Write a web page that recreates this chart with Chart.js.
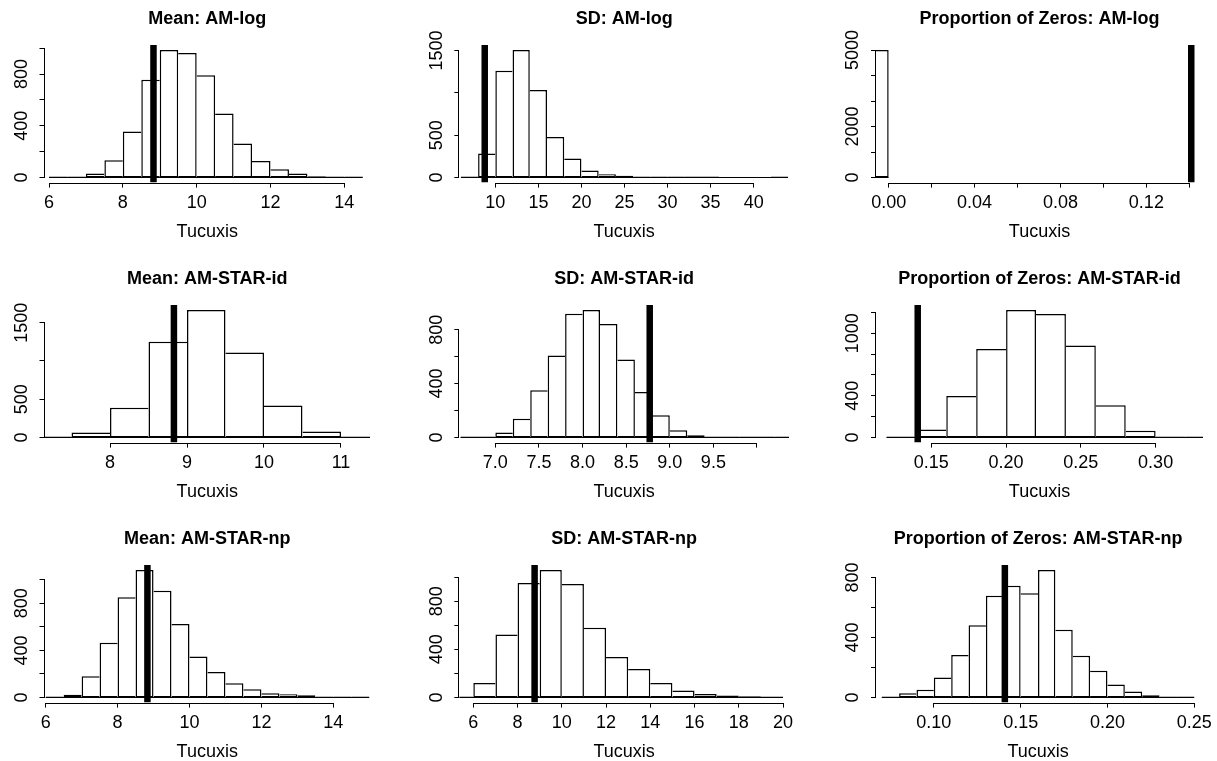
<!DOCTYPE html>
<html>
<head>
<meta charset="utf-8">
<title>Posterior predictive checks - Tucuxis</title>
<script src="https://cdn.jsdelivr.net/npm/chart.js@4.4.1/dist/chart.umd.min.js"></script>
<style>
  html, body { margin: 0; padding: 0; background: #fff; overflow: hidden; }
  body { width: 1217px; height: 761px; position: relative; }
  canvas { position: absolute; }
</style>
</head>
<body>
<script>
const panelTitles = [
  'Mean: AM-log', 'SD: AM-log', 'Proportion of Zeros: AM-log',
  'Mean: AM-STAR-id', 'SD: AM-STAR-id', 'Proportion of Zeros: AM-STAR-id',
  'Mean: AM-STAR-np', 'SD: AM-STAR-np', 'Proportion of Zeros: AM-STAR-np'
];

const countsMeanLog = [2, 1, 31, 133, 356, 756, 985, 962, 790, 495, 262, 128, 64, 31, 10, 3, 2];
const countsSdLog = [8, 284, 1259, 1504, 1034, 478, 225, 83, 39, 20, 8, 4, 4, 2, 4, 0, 0, 0, 2];
const countsPropLog = [5000];
const countsMeanId = [3, 65, 389, 1249, 1664, 1111, 419, 78, 3];
const countsSdId = [1, 4, 37, 140, 350, 608, 918, 945, 842, 578, 337, 165, 54, 17, 4, 1, 1, 1, 2];
const countsPropId = [8, 76, 398, 850, 1222, 1184, 882, 309, 64, 6, 1];
const countsMeanNp = [5, 23, 180, 465, 851, 1082, 907, 625, 349, 217, 121, 70, 37, 28, 20, 8, 3, 2];
const countsSdNp = [1, 121, 523, 950, 1058, 942, 579, 336, 237, 121, 58, 30, 17, 11, 4];
const countsPropNp = [3, 29, 51, 133, 283, 482, 678, 745, 694, 849, 451, 278, 179, 86, 40, 15, 6, 2];

// first break and bin width of each histogram
const binStart = [6, 6, -0.01, 7, 6.6, 0.12, 6, 5, 0.07];
const binWidth = [0.5, 2, 0.01, 0.5, 0.2, 0.02, 0.5, 1, 0.01];

// observed statistic (thick vertical line): mean, sd, proportion of zeros
const observedStat = [8.83, 8.77, 0.1409];

// x axis limits of each panel
const xLimits = [
  [5.878, 14.695], [5.819, 44.104], [-0.0059, 0.14637],
  [7.149, 11.377], [6.587, 10.367], [0.113, 0.33168],
  [5.968, 15.019], [5.367, 20.271], [0.06669, 0.25344]
];

const xTicks = [
  [6, 8, 10, 12, 14],
  [10, 15, 20, 25, 30, 35, 40],
  [0, 0.02, 0.04, 0.06, 0.08, 0.1, 0.12, 0.14],
  [8, 9, 10, 11],
  [7, 7.5, 8, 8.5, 9, 9.5, 10],
  [0.15, 0.2, 0.25, 0.3],
  [6, 8, 10, 12, 14],
  [6, 8, 10, 12, 14, 16, 18, 20],
  [0.1, 0.15, 0.2, 0.25]
];
const xTickLabels = [
  ['6', '8', '10', '12', '14'],
  ['10', '15', '20', '25', '30', '35', '40'],
  ['0.00', '', '0.04', '', '0.08', '', '0.12', ''],
  ['8', '9', '10', '11'],
  ['7.0', '7.5', '8.0', '8.5', '9.0', '9.5', ''],
  ['0.15', '0.20', '0.25', '0.30'],
  ['6', '8', '10', '12', '14'],
  ['6', '8', '10', '12', '14', '16', '18', '20'],
  ['0.10', '0.15', '0.20', '0.25']
];

const yTicks = [
  [0, 200, 400, 600, 800, 1000],
  [0, 500, 1000, 1500],
  [0, 1000, 2000, 3000, 4000, 5000],
  [0, 500, 1000, 1500],
  [0, 200, 400, 600, 800],
  [0, 200, 400, 600, 800, 1000, 1200],
  [0, 200, 400, 600, 800, 1000],
  [0, 200, 400, 600, 800, 1000],
  [0, 200, 400, 600, 800]
];
const yTickLabels = [
  ['0', '', '400', '', '800', ''],
  ['0', '500', '', '1500'],
  ['0', '', '2000', '', '', '5000'],
  ['0', '500', '', '1500'],
  ['0', '', '400', '', '800'],
  ['0', '', '400', '', '', '1000', ''],
  ['0', '', '400', '', '800', ''],
  ['0', '', '400', '', '800', ''],
  ['0', '', '400', '', '800']
];

const binCounts = [countsMeanLog, countsSdLog, countsPropLog,
                   countsMeanId, countsSdId, countsPropId,
                   countsMeanNp, countsSdNp, countsPropNp];

// ---- page layout (3 x 3 panels) ----
const colLeft = [0, 406, 812];
const colWidth = [406, 406, 405];
const rowTop = [0, 260, 520];
const panelHeight = 260;
const plotLeft = [44.5, 53.33, 64];
const plotRight = [370, 383, 391];
const plotBottom = 182.596;   // puts the zero line on a pixel centre
const FONT = '"Liberation Sans", Arial, Helvetica, sans-serif';
const FONT_SIZE = 18;
const EDGE = 1.5;             // bar outline width

Chart.defaults.font.family = FONT;
Chart.defaults.font.size = FONT_SIZE;
Chart.defaults.color = '#000';

const measureCtx = document.createElement('canvas').getContext('2d');
measureCtx.font = FONT_SIZE + 'px ' + FONT;

// R style axis line: only from the first to the last tick
const rAxisLines = {
  id: 'rAxisLines',
  afterDraw(chart) {
    const {ctx, scales: {x, y}} = chart;
    const xt = x.ticks, yt = y.ticks;
    ctx.save();
    ctx.strokeStyle = '#000';
    ctx.lineWidth = 1;
    ctx.beginPath();
    const by = Math.round(x.top) + 0.5;
    ctx.moveTo(x.getPixelForValue(xt[0].value), by);
    ctx.lineTo(x.getPixelForValue(xt[xt.length - 1].value), by);
    const lx = Math.round(y.right) - 0.5;
    ctx.moveTo(lx, y.getPixelForValue(yt[0].value));
    ctx.lineTo(lx, y.getPixelForValue(yt[yt.length - 1].value));
    ctx.stroke();
    ctx.restore();
  }
};

function makePanel(idx) {
  const col = idx % 3, row = Math.floor(idx / 3);
  const W = colWidth[col], H = panelHeight;
  const canvas = document.createElement('canvas');
  canvas.width = W;
  canvas.height = H;
  canvas.style.left = colLeft[col] + 'px';
  canvas.style.top = rowTop[row] + 'px';
  document.body.appendChild(canvas);

  const counts = binCounts[idx];
  const bw = binWidth[idx];
  const maxCount = Math.max(...counts);
  const yMin = -0.04 * maxCount, yMax = 1.04 * maxCount;
  const bars = counts.map((c, i) => ({x: binStart[idx] + (i + 0.5) * bw, y: c}));
  const firstBreak = binStart[idx];
  const lastBreak = binStart[idx] + counts.length * bw;
  const obs = observedStat[col];

  // rotated y labels: centre them ~22.5px left of the axis
  const widest = Math.max(...yTickLabels[idx].map(s => measureCtx.measureText(s).width));
  const yPad = 22.5 - 5 - widest / 2;

  new Chart(canvas, {
    type: 'bar',
    data: {
      datasets: [{
        // observed value
        type: 'line',
        data: [{x: obs, y: yMin}, {x: obs, y: yMax}],
        borderColor: '#000',
        borderWidth: 6.5,
        borderCapStyle: 'butt',
        pointRadius: 0,
        fill: false,
        order: 0
      }, {
        // bottom edges of the histogram bars (R draws them as one line at 0)
        type: 'line',
        data: [{x: firstBreak, y: 0}, {x: lastBreak, y: 0}],
        borderColor: '#000',
        borderWidth: 1,
        borderCapStyle: 'butt',
        pointRadius: 0,
        fill: false,
        order: 1
      }, {
        type: 'bar',
        data: bars,
        backgroundColor: '#fff',
        borderColor: '#000',
        borderSkipped: false,
        inflateAmount: 0,
        minBarLength: 1,
        barThickness: (ctx) => {
          const s = ctx.chart.scales.x;
          return Math.abs(s.getPixelForValue(bw) - s.getPixelForValue(0));
        },
        // every shared edge is drawn once, by the taller bar
        borderWidth: (ctx) => {
          const i = ctx.dataIndex, h = counts[i];
          return {
            top: EDGE, bottom: 1,
            left: (i === 0 || counts[i - 1] <= h) ? EDGE : 0,
            right: (i === counts.length - 1 || counts[i + 1] < h) ? EDGE : 0
          };
        },
        order: 2
      }]
    },
    options: {
      responsive: false,
      maintainAspectRatio: false,
      animation: false,
      devicePixelRatio: 1,
      events: [],
      layout: {
        autoPadding: false,
        padding: {left: 0, top: 0, right: W - plotRight[col], bottom: 0}
      },
      plugins: {
        legend: {display: false},
        tooltip: {enabled: false},
        title: {
          display: true,
          text: panelTitles[idx],
          fullSize: false,
          color: '#000',
          font: {size: FONT_SIZE, weight: 'bold'},
          padding: {top: 8, bottom: 15.4}
        }
      },
      scales: {
        x: {
          type: 'linear',
          min: xLimits[idx][0],
          max: xLimits[idx][1],
          offset: false,
          afterBuildTicks: (s) => { s.ticks = xTicks[idx].map(v => ({value: v})); },
          afterFit: (s) => { s.height = H - plotBottom; },
          ticks: {
            autoSkip: false, minRotation: 0, maxRotation: 0, padding: 4.9,
            color: '#000',
            callback: (v, i) => xTickLabels[idx][i]
          },
          grid: {drawOnChartArea: false, offset: false, color: '#000', tickLength: 5, lineWidth: 1},
          border: {display: false},
          title: {display: true, text: 'Tucuxis', color: '#000', padding: {top: 0, bottom: 17.2}}
        },
        y: {
          type: 'linear',
          min: yMin,
          max: yMax,
          afterBuildTicks: (s) => { s.ticks = yTicks[idx].map(v => ({value: v})); },
          afterFit: (s) => { s.width = plotLeft[col]; },
          ticks: {
            autoSkip: false, minRotation: 90, maxRotation: 90, crossAlign: 'center',
            padding: yPad, color: '#000',
            callback: (v, i) => yTickLabels[idx][i]
          },
          grid: {drawOnChartArea: false, color: '#000', tickLength: 5, lineWidth: 1},
          border: {display: false}
        }
      }
    },
    plugins: [rAxisLines]
  });
}

for (let i = 0; i < 9; i++) makePanel(i);
</script>
</body>
</html>
